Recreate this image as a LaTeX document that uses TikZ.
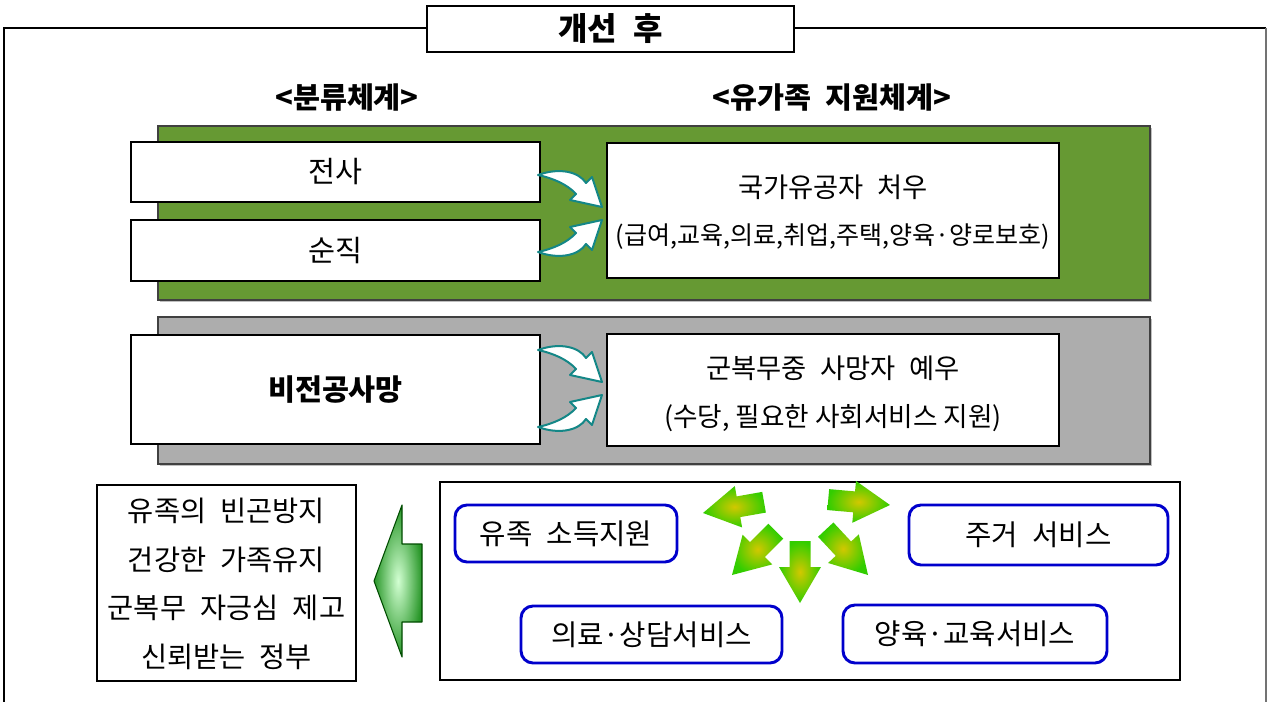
\documentclass[tikz,border=0pt]{standalone}
\usepackage{fontspec}
\setmainfont{Noto Sans CJK KR}
\definecolor{bandgreen}{RGB}{102,153,51}
\definecolor{bandgray}{RGB}{173,173,173}
\definecolor{tealc}{RGB}{20,135,135}
\definecolor{blueb}{RGB}{0,0,204}
\definecolor{gin}{RGB}{210,200,0}
\definecolor{gout}{RGB}{50,205,0}
\definecolor{bigin}{RGB}{210,255,210}
\definecolor{bigout}{RGB}{40,150,40}
\newcommand{\wsp}{\hspace{0.5em}}
\begin{document}
\begin{tikzpicture}[x=0.75pt,y=-0.75pt,
  sz/.style 2 args={minimum width={#1*0.75pt}, minimum height={#2*0.75pt}},
  box/.style={draw=black, line width=1pt, fill=white, inner sep=0pt},
  band/.style={draw=black!75, line width=1.2pt, inner sep=0pt},
  txt/.style={inner sep=0pt, align=center},
  blue/.style={draw=blueb, line width=2.2pt, rounded corners=9pt, fill=white, inner sep=0pt},
  curv/.style={draw=tealc, line width=1.5pt, fill=white, line join=round},
  garrow/.style={shading=radial, inner color=gin, outer color=gout},
  bigarrow/.style={shading=radial, inner color=bigin, outer color=bigout}
]
\useasboundingbox (0,0) rectangle (1272,702);
\fill[white] (0,0) rectangle (1272,702);
% outer frame
\draw[line width=1.2pt] (4,720) -- (4,28) -- (1266,28);
\draw[line width=1.6pt, black!55] (1266,28) -- (1266,720);
% title
\node[box, sz={367}{46}] (title) at (610.5,29) {};
\node[txt, font=\fontsize{24}{28}\bfseries] (titletxt) at (610.5,29) {개선\wsp 후};
% headers
\node[txt, font=\fontsize{22}{26}\bfseries] (h1) at (347,98) {<분류체계>};
\node[txt, font=\fontsize{22}{26}\bfseries] (h2) at (832,98) {<유가족\wsp 지원체계>};
% green band
\fill[black!25] (160,128) rectangle (1152,302);
\node[band, fill=bandgreen, sz={992}{174}] (gband) at (654,213) {};
\node[box, sz={409}{60}, font=\fontsize{22}{26}\selectfont] (jeonsa) at (335.5,172) {전사};
\node[box, sz={409}{61}, font=\fontsize{22}{26}\selectfont] (sunjik) at (335.5,250.5) {순직};
\node[box, sz={452}{135}] (gukga) at (833,210.5) {};
\node[txt, font=\fontsize{20.5}{24}\selectfont] (g1) at (833,187) {국가유공자\wsp 처우};
\node[txt, font=\fontsize{18.8}{22}\selectfont] (g2) at (833,237) {(급여,교육,의료,취업,주택,양육·양로보호)};
% gray band
\fill[black!25] (160,319) rectangle (1152,466);
\node[band, fill=bandgray, sz={992}{147}] (yband) at (654,390.5) {};
\node[box, sz={409}{109}, font=\fontsize{22}{26}\bfseries] (bijeon) at (335.5,389.5) {비전공사망};
\node[box, sz={452}{112}] (gunbok) at (833,390) {};
\node[txt, font=\fontsize{20.5}{24}\selectfont] (u1) at (833,368) {군복무중\wsp 사망자\wsp 예우};
\node[txt, font=\fontsize{20}{24}\selectfont] (u2) at (833,418) {(수당, 필요한 사회서비스 지원)};
% curved arrows
\def\curvpath{(0,0) .. controls (22,-8) and (41,-3) .. (48,8) -- (54,2) -- (64,32) -- (32,25) -- (38,19) .. controls (29,9) and (14,3) .. (0,0) -- cycle}
\draw[curv, shift={(538,175)}] \curvpath;
\draw[curv, shift={(538,252)}, yscale=-1] \curvpath;
\draw[curv, shift={(538,350)}] \curvpath;
\draw[curv, shift={(538,427)}, yscale=-1] \curvpath;
% bottom left goals
\node[box, sz={259}{196}] (goals) at (226.5,583) {};
\node[txt, font=\fontsize{21.3}{36.5}\selectfont] (goalstxt) at (226.5,584) {유족의\wsp 빈곤방지\\건강한\wsp 가족유지\\군복무\wsp 자긍심\wsp 제고\\신뢰받는\wsp 정부};
% big arrow
\path[bigarrow] (374,581) -- (402,505) -- (402,544) -- (422,544) -- (422,622) -- (402,622) -- (402,657) -- cycle;
\draw[draw=black!70!green, line width=0.8pt, line join=round] (374,581) -- (402,505) -- (402,544) -- (422,544) -- (422,622) -- (402,622) -- (402,657) -- cycle;
% services box
\node[box, sz={740}{198}] (serv) at (810,581) {};
\node[blue, sz={222}{57}, font=\fontsize{21.5}{25}\selectfont] (s1) at (566,533.5) {유족\wsp 소득지원};
\node[blue, sz={259}{60}, font=\fontsize{21.5}{25}\selectfont] (s2) at (1038.5,535) {주거\wsp 서비스};
\node[blue, sz={261}{57}, font=\fontsize{21.5}{25}\selectfont] (s3) at (651.5,634.5) {의료·상담서비스};
\node[blue, sz={264}{58}, font=\fontsize{21.5}{25}\selectfont] (s4) at (975,634) {양육·교육서비스};
% five green arrows
\def\garrowpath{(0,0) -- (-36,21) -- (-36,10.5) -- (-62,10.5) -- (-62,-10.5) -- (-36,-10.5) -- (-36,-21) -- cycle}
\path[garrow, shift={(703,513)}, rotate=190] \garrowpath;
\path[garrow, shift={(890,505)}, rotate=-5] \garrowpath;
\path[garrow, shift={(732,575)}, rotate=225] \garrowpath;
\path[garrow, shift={(800,603)}, rotate=-90] \garrowpath;
\path[garrow, shift={(868,575)}, rotate=-47] \garrowpath;
\end{tikzpicture}
\end{document}
